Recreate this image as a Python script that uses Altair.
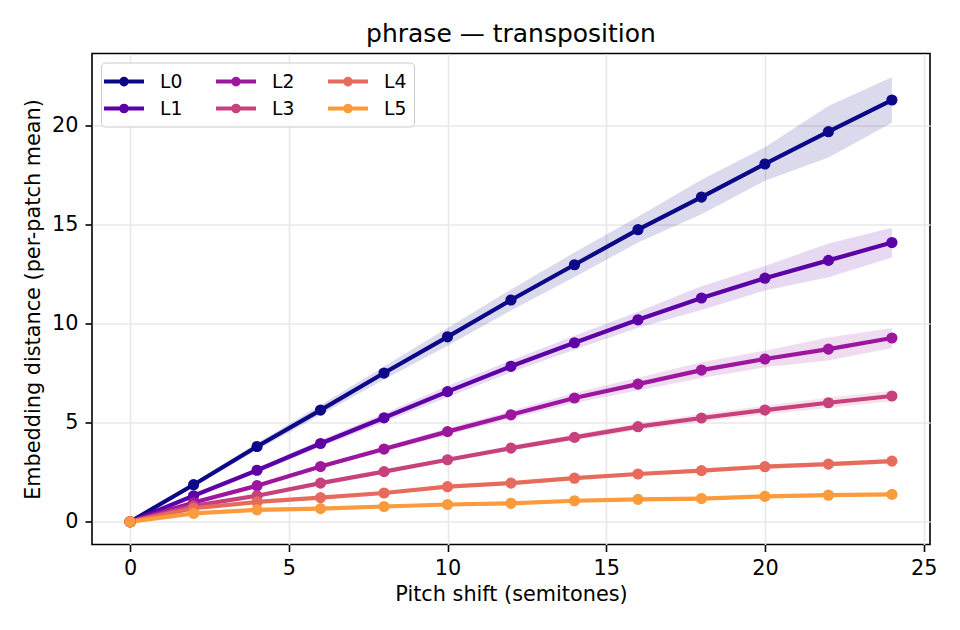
import altair as alt
import pandas as pd

# ---- data ----
shift = [0, 2, 4, 6, 8, 10, 12, 14, 16, 18, 20, 22, 24]
layers = ["L0", "L1", "L2", "L3", "L4", "L5"]
colors = ["#0d0887", "#5c01a6", "#9c179e", "#c7427c", "#e76b5c", "#fb9b3b"]

mean_L0 = [0, 1.87, 3.80, 5.64, 7.51, 9.34, 11.20, 12.98, 14.75, 16.40, 18.07, 19.70, 21.30]
mean_L1 = [0, 1.31, 2.60, 3.95, 5.25, 6.57, 7.85, 9.04, 10.20, 11.30, 12.30, 13.20, 14.10]
mean_L2 = [0, 0.97, 1.82, 2.79, 3.67, 4.55, 5.40, 6.25, 6.95, 7.66, 8.22, 8.72, 9.28]
mean_L3 = [0, 0.80, 1.31, 1.95, 2.53, 3.13, 3.72, 4.26, 4.80, 5.24, 5.64, 6.01, 6.35]
mean_L4 = [0, 0.68, 1.00, 1.22, 1.45, 1.77, 1.95, 2.20, 2.41, 2.58, 2.78, 2.91, 3.06]
mean_L5 = [0, 0.42, 0.60, 0.66, 0.77, 0.87, 0.93, 1.06, 1.13, 1.17, 1.28, 1.34, 1.38]

spread_L0 = [0, 0.10, 0.18, 0.25, 0.33, 0.45, 0.53, 0.62, 0.65, 0.87, 0.85, 1.30, 1.15]
spread_L1 = [0, 0.06, 0.12, 0.18, 0.22, 0.28, 0.30, 0.35, 0.40, 0.60, 0.62, 0.85, 0.75]
spread_L2 = [0, 0.04, 0.07, 0.10, 0.13, 0.17, 0.20, 0.25, 0.32, 0.40, 0.42, 0.58, 0.50]
spread_L3 = [0, 0.03, 0.05, 0.06, 0.08, 0.10, 0.12, 0.15, 0.18, 0.20, 0.22, 0.27, 0.26]
spread_L4 = [0, 0.02, 0.03, 0.04, 0.05, 0.06, 0.07, 0.08, 0.09, 0.10, 0.11, 0.12, 0.12]
spread_L5 = [0, 0.01, 0.02, 0.02, 0.03, 0.03, 0.03, 0.04, 0.04, 0.05, 0.05, 0.06, 0.06]

x_ticks = [0, 5, 10, 15, 20, 25]
y_ticks = [0, 5, 10, 15, 20]

means = [mean_L0, mean_L1, mean_L2, mean_L3, mean_L4, mean_L5]
spreads = [spread_L0, spread_L1, spread_L2, spread_L3, spread_L4, spread_L5]

rows = []
for name, m, s in zip(layers, means, spreads):
    for xv, mv, sv in zip(shift, m, s):
        rows.append({"layer": name, "shift": xv, "mean": mv, "lo": mv - sv, "hi": mv + sv})
df = pd.DataFrame(rows)

# legend laid out column-major like matplotlib (ncol=3)
legend_order = ["L0", "L2", "L4", "L1", "L3", "L5"]
legend_colors = [colors[layers.index(n)] for n in legend_order]
color_scale = alt.Scale(domain=legend_order, range=legend_colors)

FONT = "DejaVu Sans"
symbol_path = "M-2,0H2M-0.28,0A0.28,0.28,0,1,0,0.28,0A0.28,0.28,0,1,0,-0.28,0Z"

legend = alt.Legend(
    title=None,
    orient="none",
    legendX=9,
    legendY=9,
    columns=3,
    direction="horizontal",
    symbolType=symbol_path,
    symbolSize=400,
    symbolStrokeWidth=4,
    symbolOpacity=1,
    symbolOffset=4,
    labelFont=FONT,
    labelFontSize=18.75,
    labelColor="#000000",
    labelOffset=24,
    columnPadding=25,
    rowPadding=4,
    padding=7,
    strokeColor="#cccccc",
    fillColor="rgba(255,255,255,0.8)",
    cornerRadius=4,
)

x_scale = alt.Scale(domain=[-1.2, 25.2], nice=False, zero=False)
y_scale = alt.Scale(domain=[-1.15, 23.65], nice=False, zero=False)
x_axis = alt.Axis(values=x_ticks, title="Pitch shift (semitones)", titlePadding=6,
                  labelFlush=False, labelOverlap=False, format="d")
y_axis = alt.Axis(values=y_ticks, title="Embedding distance (per-patch mean)", titlePadding=8,
                  labelFlush=False, labelOverlap=False, format="d")

X = alt.X("shift:Q", scale=x_scale, axis=x_axis)

band = alt.Chart(df).mark_area(opacity=0.15).encode(
    x=X,
    y=alt.Y("lo:Q", scale=y_scale, axis=y_axis),
    y2="hi:Q",
    color=alt.Color("layer:N", scale=color_scale, legend=None),
)

line = alt.Chart(df).mark_line(strokeWidth=4.2).encode(
    x=X,
    y=alt.Y("mean:Q", scale=y_scale, axis=y_axis),
    color=alt.Color("layer:N", scale=color_scale, legend=legend),
)

pts = alt.Chart(df).mark_point(filled=True, size=125, opacity=1).encode(
    x=X,
    y=alt.Y("mean:Q", scale=y_scale, axis=y_axis),
    color=alt.Color("layer:N", scale=color_scale, legend=None),
)

chart = alt.layer(band, line, pts).resolve_legend(color="independent").properties(
    width=838,
    height=491,
    padding={"left": 84, "top": 45.5, "right": 20, "bottom": 70},
    autosize=alt.AutoSizeParams(type="none"),
    title=alt.TitleParams(
        "phrase — transposition",
        font=FONT,
        fontSize=25,
        fontWeight="normal",
        color="#000000",
        baseline="alphabetic",
        offset=11.5,
        dy=25,
        anchor="middle",
    ),
).configure_view(
    stroke="#000000", strokeWidth=1.6
).configure_axis(
    domain=False,
    grid=True,
    gridColor="#e8e8e8",
    gridWidth=1.6,
    tickColor="#000000",
    tickSize=7,
    tickWidth=1.6,
    labelFont=FONT,
    labelFontSize=20.8,
    labelColor="#000000",
    labelPadding=7,
    titleFont=FONT,
    titleFontSize=20.8,
    titleFontWeight="normal",
    titleColor="#000000",
)

chart.save("out.html", embed_options={"renderer": "svg", "actions": False})
